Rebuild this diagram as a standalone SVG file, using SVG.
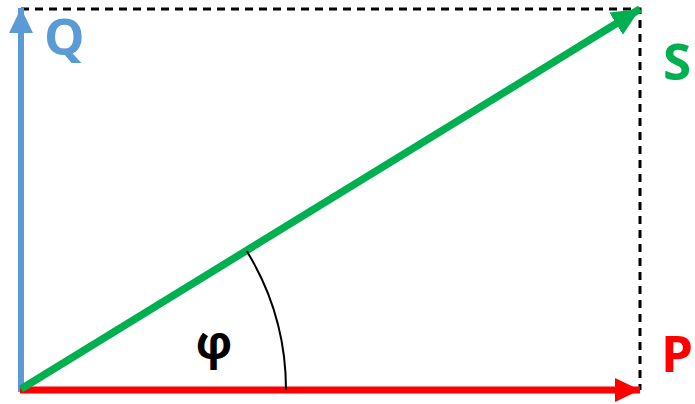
<svg xmlns="http://www.w3.org/2000/svg" width="695" height="404" viewBox="0 0 695 404">
<style>
.lbl{font-family:"Open Sans","Liberation Sans",sans-serif;font-weight:bold}
</style>
<defs>
<marker id="hb" markerUnits="userSpaceOnUse" viewBox="0 0 25 24" refX="25" refY="12" markerWidth="25" markerHeight="24" orient="auto"><path d="M0,0 L25,12 L0,24 Z" fill="#5B9BD5"/></marker>
<marker id="hr" markerUnits="userSpaceOnUse" viewBox="0 0 25 24" refX="25" refY="12" markerWidth="25" markerHeight="24" orient="auto"><path d="M0,0 L25,12 L0,24 Z" fill="#FF0000"/></marker>
<marker id="hg" markerUnits="userSpaceOnUse" viewBox="0 0 28 26" refX="28" refY="13" markerWidth="28" markerHeight="26" orient="auto"><path d="M0,0 L28,13 L0,26 Z" fill="#00B050"/></marker>
</defs>
<g id="connectors">
<path d="M21,9 H640 V390" fill="none" stroke="#000" stroke-width="3" stroke-dasharray="8,6"/>
<line x1="21" y1="392" x2="21" y2="8" stroke="#5B9BD5" stroke-width="6" marker-end="url(#hb)"/>
<line x1="20" y1="390" x2="640" y2="390" stroke="#FF0000" stroke-width="7" marker-end="url(#hr)"/>
<line x1="21" y1="389" x2="640" y2="9" stroke="#00B050" stroke-width="7.5" marker-end="url(#hg)"/>
<path d="M286,390 A265,265 0 0 0 246.7,251" fill="none" stroke="#000" stroke-width="2"/>
</g>
<g id="Q"><text class="lbl" x="44" y="55" font-size="51" fill="#5B9BD5">Q</text></g>
<g id="S"><text class="lbl" x="663" y="80" font-size="51" fill="#00B050">S</text></g>
<g id="P"><text class="lbl" x="661" y="372" font-size="51" fill="#FF0000">P</text></g>
<g id="phi"><text class="lbl" x="214" y="359" font-size="46" fill="#000" text-anchor="middle">φ</text></g>
</svg>
